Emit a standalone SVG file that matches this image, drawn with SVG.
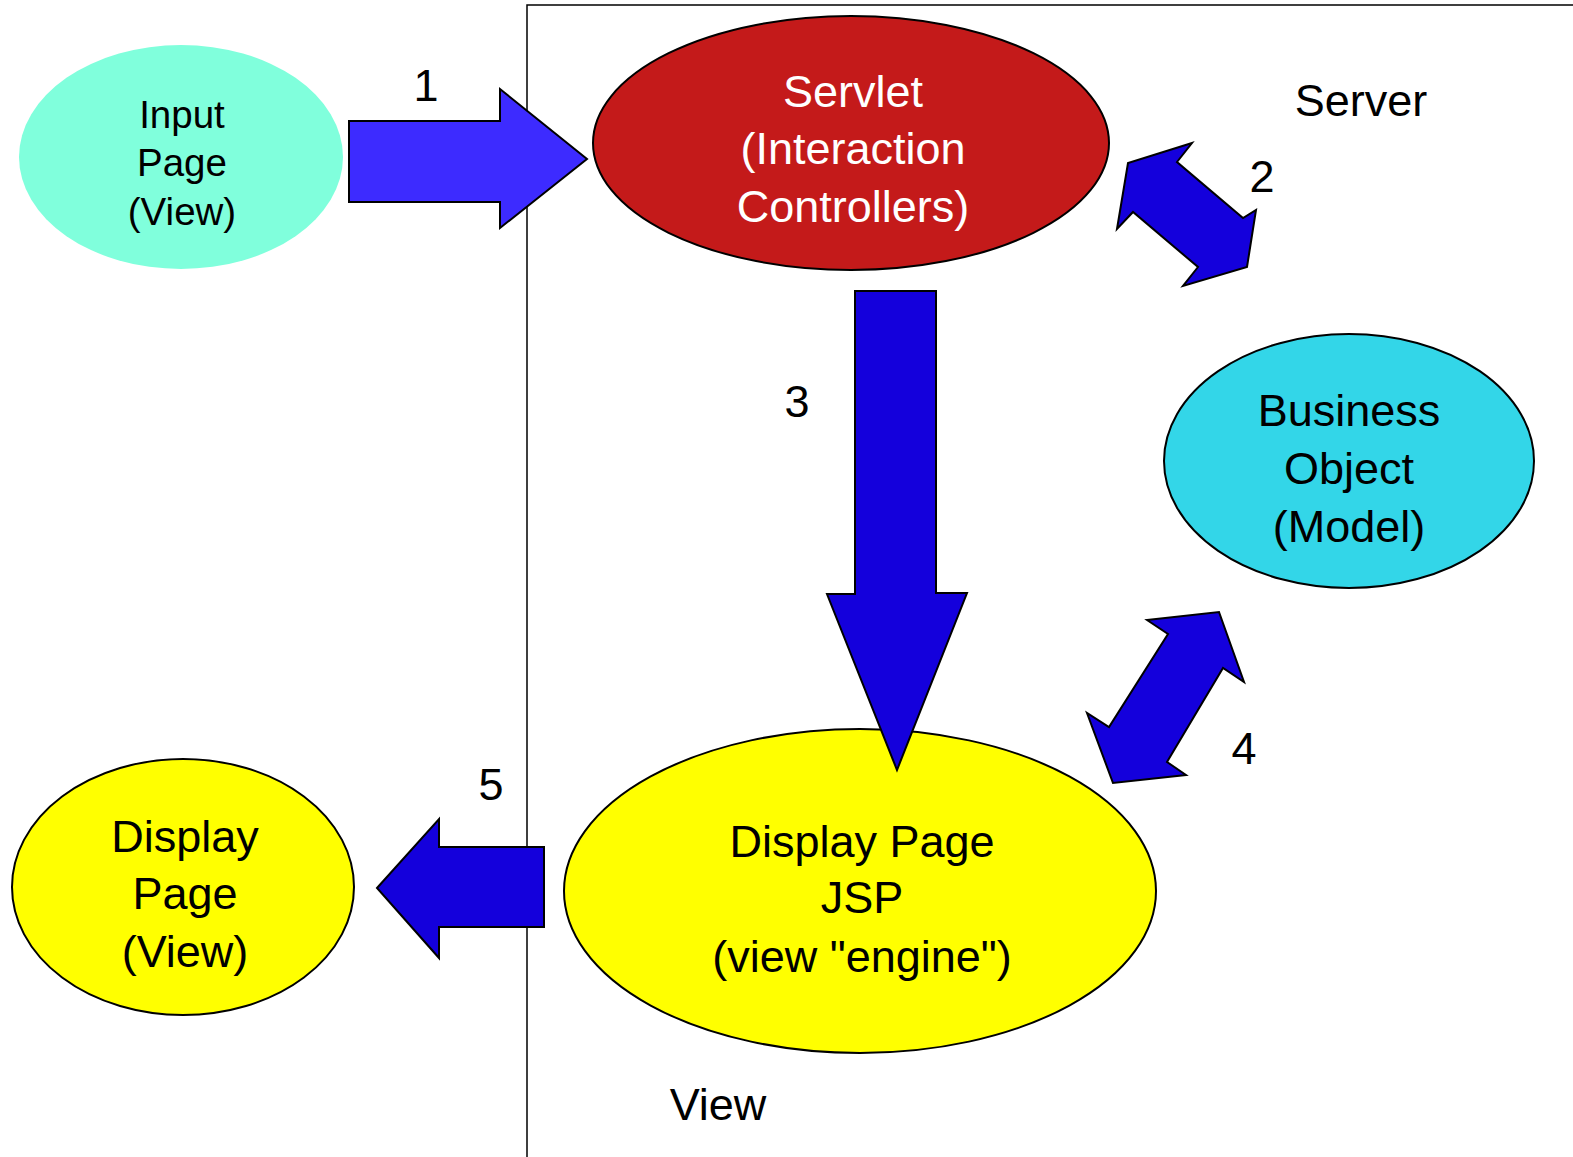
<svg xmlns="http://www.w3.org/2000/svg" width="1573" height="1157" viewBox="0 0 1573 1157">
<style>
text{font-family:"Liberation Sans",Arial,sans-serif;text-anchor:middle;fill:#000}
.big{font-size:45px}
.mid{font-size:38.5px}
.w{fill:#fff}
.node{stroke:#000;stroke-width:2}
.arr{fill:#1400dc;stroke:#000;stroke-width:2;stroke-linejoin:miter}
</style>
<rect width="1573" height="1157" fill="#fff"/>
<g id="server-boundary">
<path d="M527 1157 V5 H1573" fill="none" stroke="#000" stroke-width="1.5"/>
</g>
<g id="input-page">
<ellipse cx="181" cy="157" rx="162" ry="112" fill="#80ffdc"/>
<text class="mid" x="182" y="128">Input</text>
<text class="mid" x="182" y="176">Page</text>
<text class="mid" x="182" y="225">(View)</text>
</g>
<g id="servlet">
<ellipse class="node" cx="851" cy="143" rx="258" ry="127" fill="#c41a1a"/>
<text class="big w" x="853" y="107">Servlet</text>
<text class="big w" x="853" y="164">(Interaction</text>
<text class="big w" x="853" y="222">Controllers)</text>
</g>
<g id="business-object">
<ellipse class="node" cx="1349" cy="461" rx="185" ry="127" fill="#33d6e8"/>
<text class="big" x="1349" y="426">Business</text>
<text class="big" x="1349" y="484">Object</text>
<text class="big" x="1349" y="542">(Model)</text>
</g>
<g id="display-page-jsp">
<ellipse class="node" cx="860" cy="891" rx="296" ry="162" fill="#ffff00"/>
<text class="big" x="862" y="857">Display Page</text>
<text class="big" x="862" y="913">JSP</text>
<text class="big" x="862" y="972">(view "engine")</text>
</g>
<g id="display-page-view">
<ellipse class="node" cx="183" cy="887" rx="171" ry="128" fill="#ffff00"/>
<text class="big" x="185" y="852">Display</text>
<text class="big" x="185" y="909">Page</text>
<text class="big" x="185" y="967">(View)</text>
</g>
<g id="labels">
<text class="big" x="1361" y="116">Server</text>
<text class="big" x="718" y="1120">View</text>
</g>
<g id="connectors">
<polygon class="arr" style="fill:#3d2bff" points="349,121 500,121 500,89 587,159 500,228 500,202 349,202"/>
<polygon class="arr" points="1192,143 1128,163 1117,229 1133,212 1198,267 1183,286 1247,267 1256,210 1243,218 1177,162"/>
<polygon class="arr" points="855,291 936,291 936,593 967,593 897,770 827,594 855,594"/>
<polygon class="arr" points="1147,620 1219,612 1244,682 1223,668 1167,762 1186,775 1113,783 1087,713 1109,727 1168,634"/>
<polygon class="arr" points="377,888 439,819 439,847 544,847 544,927 439,927 439,958"/>
<text class="big" x="426" y="101">1</text>
<text class="big" x="1262" y="192">2</text>
<text class="big" x="797" y="417">3</text>
<text class="big" x="1244" y="764">4</text>
<text class="big" x="491" y="800">5</text>
</g>
</svg>
